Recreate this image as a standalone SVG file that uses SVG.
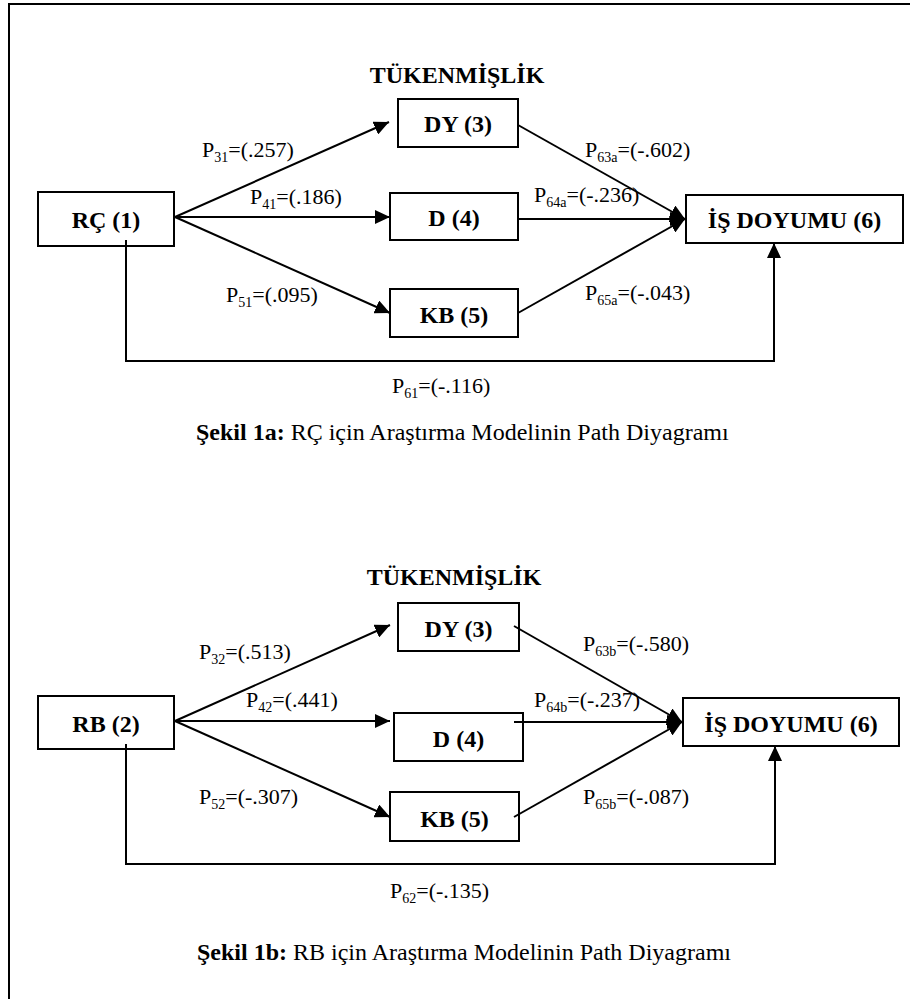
<svg xmlns="http://www.w3.org/2000/svg" width="910" height="999" viewBox="0 0 910 999">
<style>
.box{fill:#fff;stroke:#000;stroke-width:2}
.bl{font-family:"Liberation Serif","Times New Roman",serif;font-weight:bold;font-size:24px;fill:#000;text-anchor:middle}
.pl{font-family:"Liberation Serif","Times New Roman",serif;font-size:22px;fill:#000}
.cap{font-family:"Liberation Serif","Times New Roman",serif;font-size:24px;fill:#000}
.sub{font-size:14px}
.ln{fill:none;stroke:#000;stroke-width:2}
.frame{fill:none;stroke:#000;stroke-width:2}
</style>
<defs>
<marker id="ah" markerUnits="userSpaceOnUse" markerWidth="15" markerHeight="14" refX="15" refY="7" orient="auto">
<path d="M0,0 L15,7 L0,14 z" fill="#000"/>
</marker>
</defs>
<rect width="910" height="999" fill="#fff"/>
<path class="frame" d="M9,999 V4 H910"/>

<!-- Figure 1a -->
<text class="bl" x="457" y="83">TÜKENMİŞLİK</text>
<g id="rc1"><rect class="box" x="38" y="192" width="136" height="54"/><text class="bl" x="106" y="228">RÇ (1)</text></g>
<g id="dy3a"><rect class="box" x="398" y="99" width="120" height="48"/><text class="bl" x="458" y="132">DY (3)</text></g>
<g id="d4a"><rect class="box" x="390" y="193" width="128" height="47"/><text class="bl" x="454" y="226">D (4)</text></g>
<g id="kb5a"><rect class="box" x="390" y="289" width="128" height="48"/><text class="bl" x="454" y="323">KB (5)</text></g>
<g id="is6a"><rect class="box" x="686" y="195" width="217" height="48"/><text class="bl" x="794.5" y="228">İŞ DOYUMU (6)</text></g>

<g id="connectors-a">
<path class="ln" d="M175,217 L389,122" marker-end="url(#ah)"/>
<path class="ln" d="M175,217 L390,217" marker-end="url(#ah)"/>
<path class="ln" d="M175,217 L390,313" marker-end="url(#ah)"/>
<path class="ln" d="M518,125 L685,219" marker-end="url(#ah)"/>
<path class="ln" d="M518,219 L685,219" marker-end="url(#ah)"/>
<path class="ln" d="M518,313 L685,219" marker-end="url(#ah)"/>
<path class="ln" d="M126,240 V361 H774 V243" marker-end="url(#ah)"/>
</g>

<g id="labels-a">
<text class="pl" x="202" y="157">P<tspan class="sub" dy="5">31</tspan><tspan dy="-5">=(.257)</tspan></text>
<text class="pl" x="250" y="204">P<tspan class="sub" dy="5">41</tspan><tspan dy="-5">=(.186)</tspan></text>
<text class="pl" x="226" y="302">P<tspan class="sub" dy="5">51</tspan><tspan dy="-5">=(.095)</tspan></text>
<text class="pl" x="585" y="157">P<tspan class="sub" dy="5">63a</tspan><tspan dy="-5">=(-.602)</tspan></text>
<text class="pl" x="534" y="202">P<tspan class="sub" dy="5">64a</tspan><tspan dy="-5">=(-.236)</tspan></text>
<text class="pl" x="585" y="300">P<tspan class="sub" dy="5">65a</tspan><tspan dy="-5">=(-.043)</tspan></text>
<text class="pl" x="392" y="393">P<tspan class="sub" dy="5">61</tspan><tspan dy="-5">=(-.116)</tspan></text>
</g>
<text class="cap" x="196" y="440"><tspan font-weight="bold">Şekil 1a:</tspan> RÇ için Araştırma Modelinin Path Diyagramı</text>

<!-- Figure 1b -->
<text class="bl" x="454" y="585">TÜKENMİŞLİK</text>
<g id="rb2"><rect class="box" x="38" y="696" width="136" height="53"/><text class="bl" x="106" y="732">RB (2)</text></g>
<g id="dy3b"><rect class="box" x="398" y="603" width="121" height="48"/><text class="bl" x="458.5" y="637">DY (3)</text></g>
<g id="d4b"><rect class="box" x="394" y="713" width="129" height="48"/><text class="bl" x="458.5" y="747">D (4)</text></g>
<g id="kb5b"><rect class="box" x="390" y="792" width="129" height="49"/><text class="bl" x="454.5" y="827">KB (5)</text></g>
<g id="is6b"><rect class="box" x="683" y="698" width="216" height="48"/><text class="bl" x="791" y="732">İŞ DOYUMU (6)</text></g>

<g id="connectors-b">
<path class="ln" d="M175,721 L390,625" marker-end="url(#ah)"/>
<path class="ln" d="M175,721 L390,721" marker-end="url(#ah)"/>
<path class="ln" d="M175,721 L390,817" marker-end="url(#ah)"/>
<path class="ln" d="M514,626 L682,722" marker-end="url(#ah)"/>
<path class="ln" d="M514,722 L682,722" marker-end="url(#ah)"/>
<path class="ln" d="M514,817 L682,722" marker-end="url(#ah)"/>
<path class="ln" d="M126,744 V864 H775 V746" marker-end="url(#ah)"/>
</g>

<g id="labels-b">
<text class="pl" x="199" y="659">P<tspan class="sub" dy="5">32</tspan><tspan dy="-5">=(.513)</tspan></text>
<text class="pl" x="246" y="707">P<tspan class="sub" dy="5">42</tspan><tspan dy="-5">=(.441)</tspan></text>
<text class="pl" x="199" y="804">P<tspan class="sub" dy="5">52</tspan><tspan dy="-5">=(-.307)</tspan></text>
<text class="pl" x="583" y="651">P<tspan class="sub" dy="5">63b</tspan><tspan dy="-5">=(-.580)</tspan></text>
<text class="pl" x="534" y="707">P<tspan class="sub" dy="5">64b</tspan><tspan dy="-5">=(-.237)</tspan></text>
<text class="pl" x="583" y="804">P<tspan class="sub" dy="5">65b</tspan><tspan dy="-5">=(-.087)</tspan></text>
<text class="pl" x="390" y="898">P<tspan class="sub" dy="5">62</tspan><tspan dy="-5">=(-.135)</tspan></text>
</g>
<text class="cap" x="197" y="960"><tspan font-weight="bold">Şekil 1b:</tspan> RB için Araştırma Modelinin Path Diyagramı</text>
</svg>
